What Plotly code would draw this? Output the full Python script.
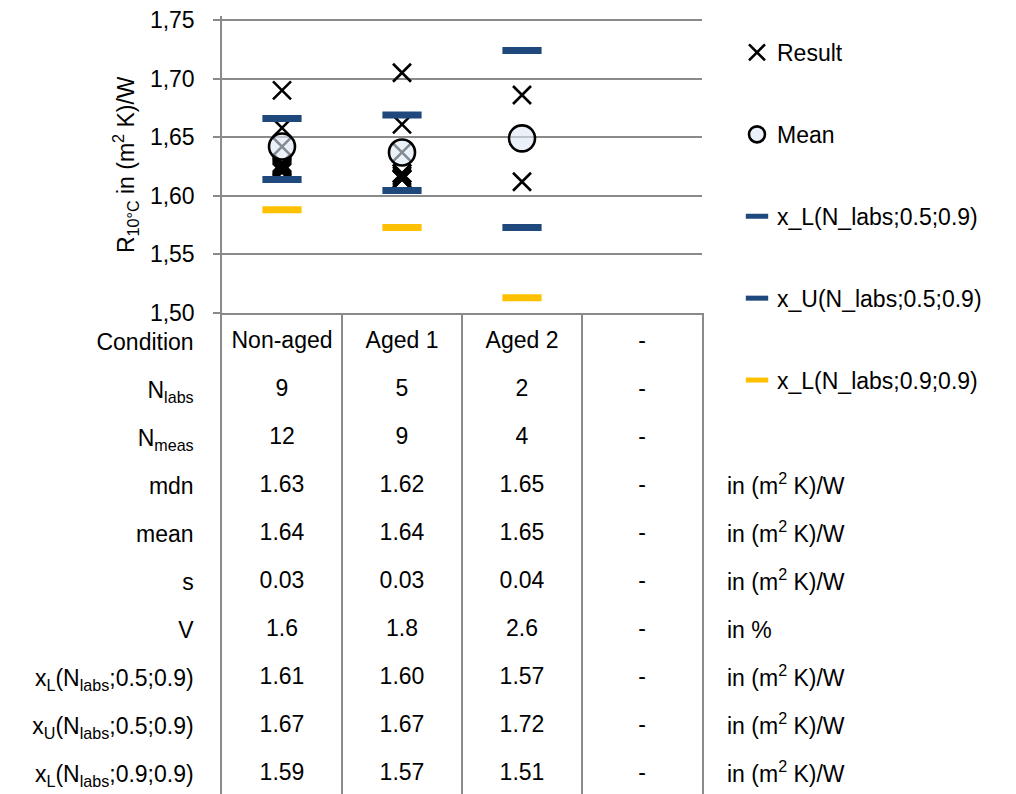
import plotly.graph_objects as go

# ---------------- data ----------------
conditions = ["Non-aged", "Aged 1", "Aged 2", "-"]
cond_pos = [0, 1, 2, 3]

result_x = [0]*12 + [1]*9 + [2]*2
result_y = [1.690, 1.658, 1.642, 1.628, 1.627, 1.626, 1.625, 1.624, 1.623, 1.622, 1.621, 1.620,
            1.705, 1.661, 1.637, 1.619, 1.619, 1.617, 1.615, 1.614, 1.614,
            1.686, 1.612]
mean_vals = [1.642, 1.637, 1.649]
xL_05 = [1.614, 1.6045, 1.573]
xU_05 = [1.666, 1.669, 1.724]
xL_09 = [1.588, 1.573, 1.513]
y_ticks = [1.50, 1.55, 1.60, 1.65, 1.70, 1.75]

row_labels = ["Condition", "N<sub>labs</sub>", "N<sub>meas</sub>", "mdn", "mean", "s", "V",
              "x<sub>L</sub>(N<sub>labs</sub>;0.5;0.9)",
              "x<sub>U</sub>(N<sub>labs</sub>;0.5;0.9)",
              "x<sub>L</sub>(N<sub>labs</sub>;0.9;0.9)"]
row_units = ["", "", "", "in (m<sup>2</sup> K)/W", "in (m<sup>2</sup> K)/W", "in (m<sup>2</sup> K)/W",
             "in %", "in (m<sup>2</sup> K)/W", "in (m<sup>2</sup> K)/W", "in (m<sup>2</sup> K)/W"]
tbl_n_labs = ["9", "5", "2", "-"]
tbl_n_meas = ["12", "9", "4", "-"]
tbl_mdn = ["1.63", "1.62", "1.65", "-"]
tbl_mean = ["1.64", "1.64", "1.65", "-"]
tbl_s = ["0.03", "0.03", "0.04", "-"]
tbl_V = ["1.6", "1.8", "2.6", "-"]
tbl_xL05 = ["1.61", "1.60", "1.57", "-"]
tbl_xU05 = ["1.67", "1.67", "1.72", "-"]
tbl_xL09 = ["1.59", "1.57", "1.51", "-"]
table_rows = [conditions, tbl_n_labs, tbl_n_meas, tbl_mdn, tbl_mean, tbl_s, tbl_V,
              tbl_xL05, tbl_xU05, tbl_xL09]

# ---------------- layout geometry ----------------
W, H = 1016, 794
OFF = 8  # page body margin offset
FONT = "Liberation Sans, Arial, sans-serif"
FS = 23
GRID = "#8a8a8a"


def px(x):
    return (x - OFF) / W


def py(y):
    return 1 - (y - OFF) / H


# y axis: 1.50 at 313 px, 1.75 at 20 px; pad the top of the range slightly
y_lo, y_hi = y_ticks[0], y_ticks[-1]
ppu = (313 - 20) / (y_hi - y_lo)
pad = 0.003
y_top_px = 20 - pad * ppu

x_dom = [px(222), px(702)]
plot_dom = [py(313), py(y_top_px)]
tbl_dom = [0, py(313)]
row_top, row_step = 342, 48
tbl_bottom_px = H + OFF
tbl_range = [(tbl_bottom_px - row_top) / row_step, (313 - row_top) / row_step]

BLUE = "#1F497D"
YELLOW = "#FFC000"

fig = go.Figure()
fig.add_trace(go.Scatter(x=result_x, y=result_y, mode="markers", name="Result",
                         legendgroup="a",
                         marker=dict(symbol="x-thin", size=18, color="black",
                                     line=dict(width=2.6, color="black"))))
fig.add_trace(go.Scatter(x=cond_pos[:3], y=mean_vals, mode="markers", name="Mean",
                         legendgroup="b",
                         marker=dict(symbol="circle", size=26, color="rgba(222,231,243,0.6)",
                                     line=dict(width=2.6, color="black"))))
fig.add_trace(go.Scatter(x=cond_pos[:3], y=xL_05, mode="markers", name="x_L(N_labs;0.5;0.9)",
                         legendgroup="c",
                         marker=dict(symbol="line-ew", size=28, color=BLUE,
                                     line=dict(width=7, color=BLUE))))
fig.add_trace(go.Scatter(x=cond_pos[:3], y=xU_05, mode="markers", name="x_U(N_labs;0.5;0.9)",
                         legendgroup="d",
                         marker=dict(symbol="line-ew", size=28, color=BLUE,
                                     line=dict(width=7, color=BLUE))))
fig.add_trace(go.Scatter(x=cond_pos[:3], y=xL_09, mode="markers", name="x_L(N_labs;0.9;0.9)",
                         legendgroup="e",
                         marker=dict(symbol="line-ew", size=28, color=YELLOW,
                                     line=dict(width=7, color=YELLOW))))

# table cells
tx, ty, tt = [], [], []
for ri, row in enumerate(table_rows):
    for ci, v in enumerate(row):
        tx.append(cond_pos[ci]); ty.append(ri); tt.append(v)
fig.add_trace(go.Scatter(x=tx, y=ty, text=tt, mode="text", xaxis="x2", yaxis="y2",
                         textfont=dict(family=FONT, size=FS, color="black"),
                         showlegend=False, hoverinfo="skip"))
fig.add_trace(go.Scatter(x=[None], y=[None], xaxis="x2", yaxis="y3",
                         showlegend=False, hoverinfo="skip"))

fig.update_layout(
    width=W, height=H,
    margin=dict(l=0, r=0, t=0, b=0, autoexpand=False),
    paper_bgcolor="white", plot_bgcolor="white",
    separators=",.",
    font=dict(family=FONT, size=FS, color="black"),
    showlegend=True,
    legend=dict(x=px(737), y=py(31), xanchor="left", yanchor="top",
                traceorder="grouped", tracegroupgap=49,
                font=dict(family=FONT, size=FS, color="black"),
                bgcolor="rgba(0,0,0,0)"),
    xaxis=dict(domain=x_dom, anchor="y", range=[-0.5, 3.5], showgrid=False,
               zeroline=False, showticklabels=False, ticks="", automargin=False,
               showline=True, linecolor=GRID, linewidth=1.5),
    yaxis=dict(domain=plot_dom, anchor="x", range=[y_lo, y_hi + pad],
               tickvals=y_ticks, ticklabeloverflow="allow",
               tickformat=".2f", showgrid=True, gridcolor=GRID, gridwidth=1.5,
               zeroline=False, showline=True, linecolor=GRID, linewidth=1.5,
               ticks="outside", ticklen=7, tickcolor=GRID, tickwidth=1.5,
               ticklabelstandoff=14, automargin=False,
               tickfont=dict(family=FONT, size=FS, color="black"),
               title=dict(text="R<sub>10°C</sub> in (m<sup>2</sup> K)/W",
                          font=dict(family=FONT, size=FS, color="black"), standoff=9)),
    xaxis2=dict(domain=x_dom, anchor="y2", range=[-0.5, 3.5], tickvals=[0.5, 1.5, 2.5],
                showgrid=True, gridcolor=GRID, gridwidth=1.5, zeroline=False,
                showticklabels=False, ticks="", automargin=False),
    yaxis2=dict(domain=tbl_dom, anchor="x2", range=tbl_range,
                tickvals=list(range(len(row_labels))), ticktext=row_labels,
                showgrid=False, zeroline=False, ticks="", automargin=False,
                showline=True, mirror=True, linecolor=GRID, linewidth=1.5,
                ticklabelstandoff=22,
                tickfont=dict(family=FONT, size=FS, color="black")),
    yaxis3=dict(overlaying="y2", side="right", anchor="x2", range=tbl_range,
                tickvals=list(range(len(row_units))), ticktext=row_units,
                showgrid=False, zeroline=False, ticks="", showline=False,
                ticklabelstandoff=24, automargin=False,
                tickfont=dict(family=FONT, size=FS, color="black")),
)

fig.write_html("out.html")
